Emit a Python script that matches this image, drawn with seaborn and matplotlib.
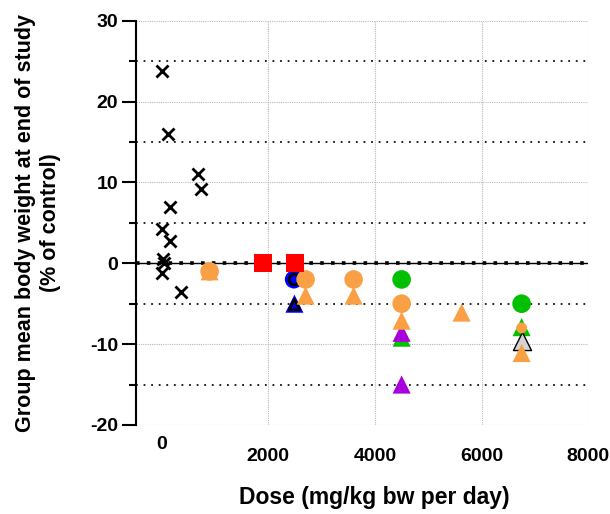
import matplotlib
matplotlib.use("Agg")
import matplotlib.pyplot as plt
from matplotlib.ticker import MultipleLocator
import seaborn as sns
import pandas as pd

# ---- data ----
cross_dose = [0, 116, 680, 736, 160, 15, 160, 35, 50, 15, 366]
cross_bw = [23.8, 16.0, 11.0, 9.2, 7.0, 4.2, 2.8, 0.5, 0.0, -1.2, -3.5]

blue_circle_dose = [2480]
blue_circle_bw = [-2.0]
blue_tri_dose = [2490]
blue_tri_bw = [-5.0]

green_tri_dose = [4500, 6750]
green_tri_bw = [-9.2, -7.9]

purple_tri_dose = [4500, 4500]
purple_tri_bw = [-8.6, -15.0]

grey_tri_dose = [6750]
grey_tri_bw = [-9.6]

orange_tri_dose = [900, 2700, 3600, 4500, 5625, 6750]
orange_tri_bw = [-1.0, -4.0, -4.0, -7.1, -6.1, -11.1]

green_circle_dose = [4500, 6750]
green_circle_bw = [-2.0, -5.0]

orange_circle_dose = [900, 2700, 3600, 4500]
orange_circle_bw = [-1.0, -2.0, -2.0, -5.0]

orange_small_dose = [6750]
orange_small_bw = [-8.0]

red_square_dose = [1900, 2500]
red_square_bw = [0.0, 0.0]

x_ticks = [0, 2000, 4000, 6000, 8000]
y_ticks = [-20, -10, 0, 10, 20, 30]

ORANGE = "#F9A045"
GREEN = "#00C000"
PURPLE = "#A800DC"
RED = "#FF0000"
BLUE = "#0000FF"
GREY = "#D3D3D3"

sns.set_style("white")
plt.rcParams["font.family"] = ["Liberation Sans", "DejaVu Sans"]
plt.rcParams["font.weight"] = "bold"
for key in ["text.color", "axes.labelcolor", "xtick.color", "ytick.color"]:
    plt.rcParams[key] = "black"

fig = plt.figure(figsize=(6.1, 5.14), dpi=100)
ax = fig.add_axes([0.223, 0.1732, 0.7414, 0.7865])

# grid
ax.set_xlim(-480, 8000)
ax.set_ylim(-20, 30)
ax.set_xticks(x_ticks)
ax.set_yticks(y_ticks)
ax.yaxis.set_minor_locator(MultipleLocator(5))
ax.grid(which="major", axis="both", color="#b8b8b8", linestyle=(0, (1, 1)), linewidth=0.8)
ax.grid(which="minor", axis="y", color="#111111", linestyle=(0, (1, 3.2)), linewidth=1.3)
ax.set_axisbelow(True)

# zero line
ax.axhline(0, color="black", linewidth=1.0, zorder=1.5)
ax.axhline(0, color="black", linewidth=2.6, linestyle=(0, (1, 2)), zorder=1.5)


def scat(xs, ys, marker, color, s, ec="none", lw=0, z=3):
    df = pd.DataFrame({"dose": xs, "bw": ys})
    sns.scatterplot(data=df, x="dose", y="bw", marker=marker, color=color, s=s,
                    edgecolor=ec, linewidth=lw, ax=ax, zorder=z, legend=False)


scat(cross_dose, cross_bw, "x", "black", 75, ec="black", lw=2.0)
# blue markers with black inner ring
scat(blue_circle_dose, blue_circle_bw, "o", BLUE, 170)
scat(blue_circle_dose, blue_circle_bw, "o", BLUE, 60, ec="black", lw=2.0)
scat(blue_tri_dose, blue_tri_bw, "^", BLUE, 170)
scat(blue_tri_dose, blue_tri_bw, "^", BLUE, 60, ec="black", lw=2.0)
scat(green_tri_dose, green_tri_bw, "^", GREEN, 170)
scat(purple_tri_dose, purple_tri_bw, "^", PURPLE, 170)
scat(grey_tri_dose, grey_tri_bw, "^", GREY, 170, ec="black", lw=1.0)
scat(orange_tri_dose, orange_tri_bw, "^", ORANGE, 170)
scat(green_circle_dose, green_circle_bw, "o", GREEN, 180)
scat(orange_circle_dose, orange_circle_bw, "o", ORANGE, 180)
scat(orange_small_dose, orange_small_bw, "o", ORANGE, 62)
scat(red_square_dose, red_square_bw, "s", RED, 160, z=4)

# spines
for side in ["top", "right", "bottom"]:
    ax.spines[side].set_visible(False)
ax.spines["left"].set_color("black")
ax.spines["left"].set_linewidth(1.5)

ax.tick_params(axis="y", which="major", length=10, width=1.5, color="black",
               labelsize=14, pad=3, left=True)
ax.tick_params(axis="y", which="minor", length=5, width=1.5, color="black", left=True)
ax.tick_params(axis="x", which="both", length=0, labelsize=14, pad=16.5)
ax.set_yticklabels([str(v) for v in y_ticks], fontweight="bold")
ax.set_xticklabels([str(v) for v in x_ticks], fontweight="bold")
ax.xaxis.get_major_ticks()[0].set_pad(8)
ax.xaxis.get_gridlines()[0].set_visible(False)

ax.set_xlabel("Dose (mg/kg bw per day)", fontsize=16.5, fontweight="bold")
ax.xaxis.set_label_coords(0.527, -0.15)
ax.set_ylabel("Group mean body weight at end of study\n(% of control)",
              fontsize=15.5, fontweight="bold", linespacing=1.2)
ax.yaxis.set_label_coords(-0.167, 0.5)

fig.savefig("out.png", dpi=100)
